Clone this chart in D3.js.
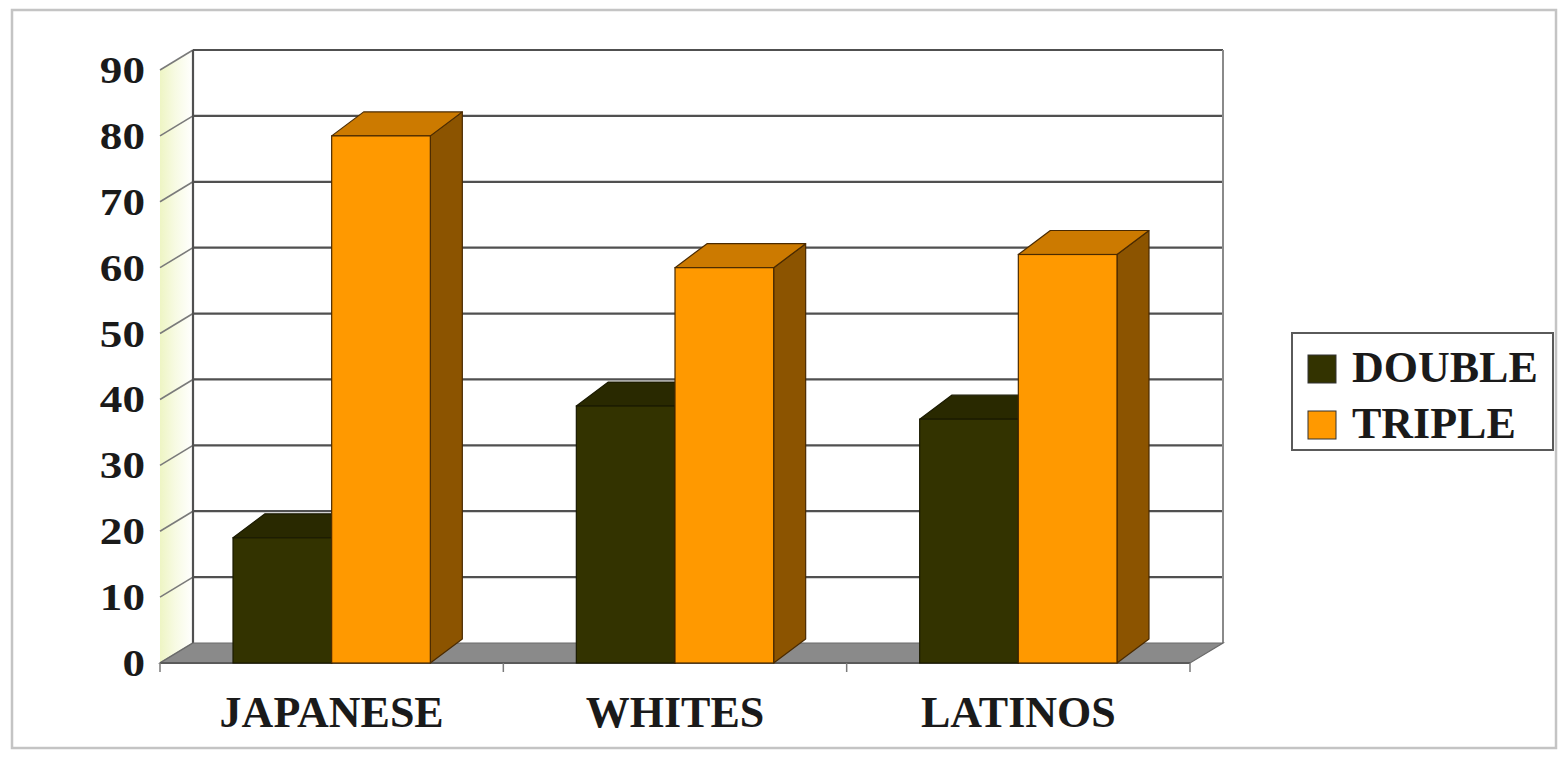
<!DOCTYPE html>
<html>
<head>
<meta charset="utf-8">
<script src="https://cdn.jsdelivr.net/npm/d3@7"></script>
<style>
  html, body { margin: 0; padding: 0; background: #ffffff; }
  svg { display: block; }
</style>
</head>
<body>
<svg id="chart" width="1566" height="766"></svg>
<script>
// Chart data
const categories = ["JAPANESE", "WHITES", "LATINOS"];
const seriesNames = ["DOUBLE", "TRIPLE"];
const doubleValues = [19, 39, 37];
const tripleValues = [80, 60, 62];
const yTicks = [0, 10, 20, 30, 40, 50, 60, 70, 80, 90];

const seriesValues = [doubleValues, tripleValues];

const FONT = "'Liberation Serif', 'Times New Roman', Times, serif";

// Face colours per series: front, top, side
const palette = {
  DOUBLE: { front: "#333300", top: "#292900", side: "#1f1f00", stroke: "#1a1a00" },
  TRIPLE: { front: "#ff9900", top: "#cc7a00", side: "#8c5400", stroke: "#4a2a00" }
};

const svg = d3.select("#chart");

// Plot geometry (front plane of the floor) and oblique depth offsets
const x0 = 160, x1 = 1190, yBase = 663, yTop = 70;
const floorDX = 33, floorDY = -20;
const barDX = 32, barDY = -24;

const x = d3.scaleBand().domain(categories).range([x0, x1]).paddingInner(0).paddingOuter(0);
const xs = d3.scaleBand().domain(seriesNames).range([0, x.bandwidth()]).paddingInner(0).paddingOuter(0.74);
const y = d3.scaleLinear().domain([0, 90]).range([yBase, yTop]);

// Outer chart frame
svg.append("rect")
  .attr("x", 12).attr("y", 10).attr("width", 1544).attr("height", 738)
  .attr("fill", "#ffffff").attr("stroke", "#c4c4c4").attr("stroke-width", 2.5);

// Side wall with a pale tint
const defs = svg.append("defs");
const grad = defs.append("linearGradient").attr("id", "sideWall")
  .attr("x1", "0%").attr("x2", "100%").attr("y1", "0%").attr("y2", "0%");
grad.append("stop").attr("offset", "0%").attr("stop-color", "#eef5c4");
grad.append("stop").attr("offset", "45%").attr("stop-color", "#f7fae2");
grad.append("stop").attr("offset", "100%").attr("stop-color", "#ffffff");

const yMax = d3.max(yTicks);
svg.append("path")
  .attr("d", `M${x0},${y(0)} L${x0 + floorDX},${y(0) + floorDY} L${x0 + floorDX},${y(yMax) + floorDY} L${x0},${y(yMax)} Z`)
  .attr("fill", "url(#sideWall)").attr("stroke", "none");

// Back wall
svg.append("rect")
  .attr("x", x0 + floorDX).attr("y", y(yMax) + floorDY)
  .attr("width", x1 - x0).attr("height", y(0) - y(yMax))
  .attr("fill", "#ffffff");

// Gridlines on the back wall and the side wall
const grid = svg.append("g");
grid.selectAll("line.back").data(yTicks.filter(d => d > 0)).join("line")
  .attr("class", "back")
  .attr("x1", x0 + floorDX).attr("x2", x1 + floorDX)
  .attr("y1", d => y(d) + floorDY).attr("y2", d => y(d) + floorDY)
  .attr("stroke", "#505050").attr("stroke-width", 2.2);
grid.selectAll("line.side").data(yTicks).join("line")
  .attr("class", "side")
  .attr("x1", x0).attr("x2", x0 + floorDX)
  .attr("y1", d => y(d)).attr("y2", d => y(d) + floorDY)
  .attr("stroke", "#7a7a7a").attr("stroke-width", 1.6);

// Wall edges
grid.append("line")
  .attr("x1", x0 + floorDX).attr("x2", x0 + floorDX)
  .attr("y1", y(yMax) + floorDY).attr("y2", y(0) + floorDY)
  .attr("stroke", "#505050").attr("stroke-width", 2.2);
grid.append("line")
  .attr("x1", x1 + floorDX).attr("x2", x1 + floorDX)
  .attr("y1", y(yMax) + floorDY).attr("y2", y(0) + floorDY)
  .attr("stroke", "#8a8a8a").attr("stroke-width", 2);

// Floor
svg.append("path")
  .attr("d", `M${x0},${y(0)} L${x0 + floorDX},${y(0) + floorDY} L${x1 + floorDX},${y(0) + floorDY} L${x1},${y(0)} Z`)
  .attr("fill", "#8a8a8a").attr("stroke", "#6a6a6a").attr("stroke-width", 1.2);
svg.append("line")
  .attr("x1", x0).attr("x2", x1).attr("y1", y(0)).attr("y2", y(0))
  .attr("stroke", "#5a5a5a").attr("stroke-width", 2);

// Category tick marks along the front floor edge
const catBounds = categories.map(c => x(c)).concat([x1]);
svg.selectAll("line.xtick").data(catBounds).join("line")
  .attr("class", "xtick")
  .attr("x1", d => d).attr("x2", d => d)
  .attr("y1", y(0)).attr("y2", y(0) + 9)
  .attr("stroke", "#7a7a7a").attr("stroke-width", 1.5);

// 3D bars: front, top and side faces
const bars = [];
seriesNames.forEach((s, si) => {
  categories.forEach((c, ci) => {
    bars.push({ series: s, category: c, value: seriesValues[si][ci] });
  });
});

const barG = svg.append("g");
bars.forEach(b => {
  const col = palette[b.series];
  const bx = x(b.category) + xs(b.series);
  const bw = xs.bandwidth();
  const yt = y(b.value), yb = y(0);
  const g = barG.append("g");
  // side face
  g.append("path")
    .attr("d", `M${bx + bw},${yb} L${bx + bw + barDX},${yb + barDY} L${bx + bw + barDX},${yt + barDY} L${bx + bw},${yt} Z`)
    .attr("fill", col.side).attr("stroke", col.stroke).attr("stroke-width", 1.2).attr("stroke-linejoin", "round");
  // top face
  g.append("path")
    .attr("d", `M${bx},${yt} L${bx + barDX},${yt + barDY} L${bx + bw + barDX},${yt + barDY} L${bx + bw},${yt} Z`)
    .attr("fill", col.top).attr("stroke", col.stroke).attr("stroke-width", 1.2).attr("stroke-linejoin", "round");
  // front face
  g.append("rect")
    .attr("x", bx).attr("y", yt).attr("width", bw).attr("height", yb - yt)
    .attr("fill", col.front).attr("stroke", col.stroke).attr("stroke-width", 1.2);
});

// Value axis labels
svg.selectAll("text.ytick").data(yTicks).join("text")
  .attr("class", "ytick")
  .attr("text-anchor", "end")
  .attr("transform", d => `translate(145,${y(d) + 13}) scale(1.22,1)`)
  .attr("font-family", FONT).attr("font-weight", "bold")
  .attr("font-size", 37).attr("fill", "#1a1a1a")
  .text(d => d);

// Category labels
svg.selectAll("text.xlabel").data(categories).join("text")
  .attr("class", "xlabel")
  .attr("text-anchor", "middle")
  .attr("x", d => x(d) + x.bandwidth() / 2)
  .attr("y", 727)
  .attr("font-family", FONT).attr("font-weight", "bold")
  .attr("font-size", 44).attr("fill", "#1a1a1a")
  .text(d => d);

// Legend
const legend = svg.append("g");
legend.append("rect")
  .attr("x", 1292).attr("y", 333).attr("width", 261).attr("height", 117)
  .attr("fill", "#ffffff").attr("stroke", "#5a5a5a").attr("stroke-width", 2);
seriesNames.forEach((s, i) => {
  const ly = 355 + i * 56;
  legend.append("rect")
    .attr("x", 1308).attr("y", ly).attr("width", 28).attr("height", 28)
    .attr("fill", palette[s].front).attr("stroke", "#333").attr("stroke-width", 1);
  legend.append("text")
    .attr("x", 1352).attr("y", ly + 27)
    .attr("font-family", FONT).attr("font-weight", "bold")
    .attr("font-size", 44).attr("fill", "#1a1a1a")
    .text(s);
});
</script>
</body>
</html>
